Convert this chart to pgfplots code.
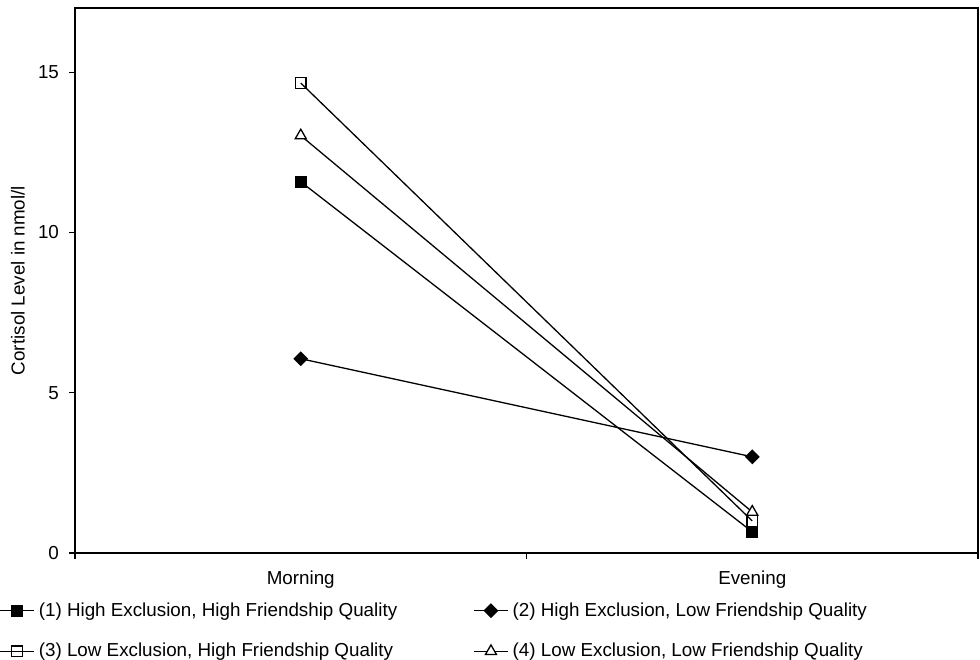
\documentclass[border=0pt]{standalone}
\usepackage{fontspec}
\setmainfont{Liberation Sans}
\usepackage{pgfplots}
\pgfplotsset{compat=1.18}
\begin{document}
\begin{tikzpicture}[font=\fontsize{9.4}{11}\selectfont]
\useasboundingbox (-37.5pt,-53pt) rectangle (452.5pt,276.5pt);
\begin{axis}[
  at={(0,0)}, anchor=south west,
  scale only axis, width=451.5pt, height=272.5pt,
  xmin=0, xmax=2, ymin=0, ymax=17,
  axis line style={line width=0.9pt},
  tick pos=left,
  xtick={0,1,2}, xticklabels={,,},
  extra x ticks={0.5,1.5}, extra x tick labels={Morning,Evening},
  extra x tick style={major tick length=0pt, xticklabel style={yshift=-5.5pt}},
  ytick={0,5,10,15},
  yticklabel style={xshift=-1.5pt},
  tick align=outside, major tick length=3pt,
  tick style={black, line width=0.6pt},
  /pgf/number format/assume math mode=true,
  ylabel={Cortisol Level in nmol/l},
  every axis y label/.style={at={(rel axis cs:0,0.5)}, xshift=-28.5pt, rotate=90, anchor=center},
  legend columns=2,
  legend cell align=left,
  legend style={at={(rel axis cs:0,0)}, anchor=north west, xshift=-41pt, yshift=-20.5pt,
    draw=none, fill=none, font=\fontsize{9.4}{11}\selectfont,
    /tikz/every even column/.append style={column sep=36pt}, row sep=8pt},
  every axis plot/.append style={black, line width=0.65pt},
]
\addplot[mark=square*, mark size=2.7pt, mark options={fill=black, solid}] coordinates {(0.5,11.58) (1.5,0.66)};
\addlegendentry{(1) High Exclusion, High Friendship Quality}
\addplot[mark=square*, mark size=2.3pt, mark options={fill=black, solid, rotate=45}] coordinates {(0.5,6.06) (1.5,3.0)};
\addlegendentry{(2) High Exclusion, Low Friendship Quality}
\addplot[mark=square, mark size=2.7pt, mark options={fill=white, solid}] coordinates {(0.5,14.66) (1.5,1.0)};
\addlegendentry{(3) Low Exclusion, High Friendship Quality}
\addplot[mark=triangle*, mark size=3.2pt, mark options={fill=white, solid}] coordinates {(0.5,13.02) (1.5,1.28)};
\addlegendentry{(4) Low Exclusion, Low Friendship Quality}
\end{axis}
\end{tikzpicture}
\end{document}
